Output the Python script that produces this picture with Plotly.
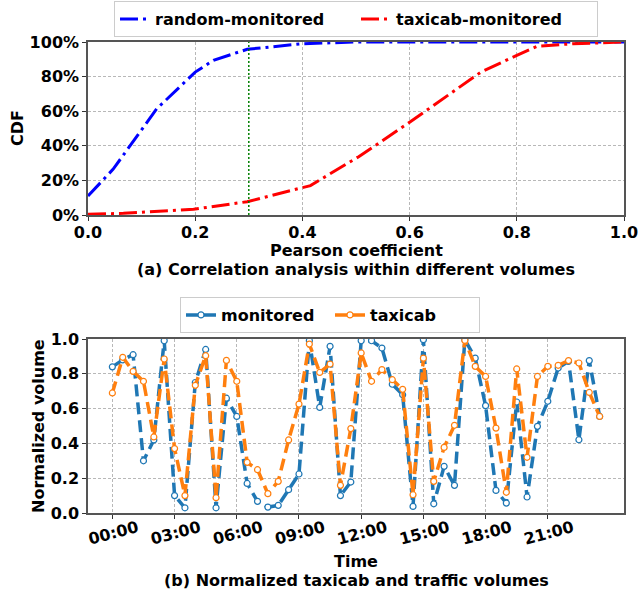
import plotly.graph_objects as go

# ---- Top chart data (CDF of Pearson coefficient) ----
pearson_random = [0.0, 0.047, 0.128, 0.2, 0.234, 0.297, 0.4, 0.5, 0.6, 0.7, 0.8, 0.9, 1.0]
cdf_random = [0.11, 0.265, 0.613, 0.826, 0.894, 0.958, 0.99, 1.0, 1.0, 1.0, 1.0, 1.0, 1.0]
pearson_taxi = [0.0, 0.066, 0.197, 0.297, 0.415, 0.505, 0.6, 0.733, 0.8, 0.838, 0.905, 1.0]
cdf_taxi = [0.004, 0.01, 0.033, 0.077, 0.17, 0.337, 0.536, 0.826, 0.923, 0.975, 0.99, 1.0]
threshold = 0.3
cdf_ticks = [0, 0.2, 0.4, 0.6, 0.8, 1.0]
pearson_ticks = [0, 0.2, 0.4, 0.6, 0.8, 1.0]

# ---- Bottom chart data (normalized volumes, every 30 minutes) ----
hours = [i * 0.5 for i in range(48)]
monitored = [0.84, 0.88, 0.91, 0.30, 0.42, 0.99, 0.10, 0.03, 0.75, 0.94, 0.03, 0.66,
             0.555, 0.17, 0.067, 0.034, 0.044, 0.134, 0.224, 0.99, 0.607, 0.958, 0.10, 0.178,
             0.99, 0.99, 0.948, 0.74, 0.68, 0.038, 0.996, 0.053, 0.268, 0.159, 0.996, 0.89,
             0.617, 0.13, 0.057, 0.638, 0.092, 0.498, 0.642, 0.833, 0.872, 0.421, 0.876, 0.555]
taxicab = [0.69, 0.895, 0.814, 0.757, 0.437, 0.885, 0.37, 0.10, 0.734, 0.904, 0.088, 0.877,
           0.757, 0.291, 0.249, 0.111, 0.182, 0.42, 0.626, 0.971, 0.808, 0.856, 0.159, 0.485,
           0.92, 0.757, 0.824, 0.766, 0.711, 0.105, 0.89, 0.182, 0.377, 0.504, 0.992, 0.843,
           0.785, 0.488, 0.119, 0.828, 0.32, 0.785, 0.843, 0.849, 0.876, 0.862, 0.693, 0.555]
time_tickvals = [0, 3, 6, 9, 12, 15, 18, 21]
time_ticktext = ["00:00", "03:00", "06:00", "09:00", "12:00", "15:00", "18:00", "21:00"]
vol_ticks = [0, 0.2, 0.4, 0.6, 0.8, 1.0]

FONT = "DejaVu Sans"
FS = 16
W, H = 638, 597
fig = go.Figure()

dashdot = "18px,5px,3px,5px"
fig.add_trace(go.Scatter(x=pearson_random, y=cdf_random, mode="lines", name="random-monitored",
                         line=dict(color="#0000ff", width=3, dash=dashdot),
                         xaxis="x", yaxis="y", legend="legend"))
fig.add_trace(go.Scatter(x=pearson_taxi, y=cdf_taxi, mode="lines", name="taxicab-monitored",
                         line=dict(color="#ff0000", width=3, dash=dashdot),
                         xaxis="x", yaxis="y", legend="legend"))
fig.add_trace(go.Scatter(x=[threshold, threshold], y=[0, 1], mode="lines", showlegend=False,
                         line=dict(color="green", width=1.5, dash="2px,2px"),
                         xaxis="x", yaxis="y"))

fig.add_trace(go.Scatter(x=hours, y=monitored, mode="lines+markers", name="monitored",
                         line=dict(color="#1f77b4", width=3.5, dash="12px,6px"),
                         marker=dict(symbol="circle", size=6, color="white",
                                     line=dict(color="#1f77b4", width=1.2)),
                         xaxis="x2", yaxis="y2", legend="legend2"))
fig.add_trace(go.Scatter(x=hours, y=taxicab, mode="lines+markers", name="taxicab",
                         line=dict(color="#ff7f0e", width=3.5, dash="12px,6px"),
                         marker=dict(symbol="circle", size=6, color="white",
                                     line=dict(color="#ff7f0e", width=1.2)),
                         xaxis="x2", yaxis="y2", legend="legend2"))

axis_common = dict(showline=True, mirror=True, linecolor="#555555", linewidth=1.5,
                   showgrid=True, gridcolor="#b8b8b8", griddash="3px,2px", gridwidth=1,
                   ticks="outside", ticklen=4, tickcolor="#333333", zeroline=False,
                   automargin=False, ticklabeloverflow="allow",
                   tickfont=dict(family=FONT, size=FS, color="black", weight="bold"))

span = hours[-1] - hours[0]
fig.update_layout(
    width=W, height=H,
    margin=dict(l=88, r=14, t=42, b=84, autoexpand=False),
    paper_bgcolor="white", plot_bgcolor="white",
    font=dict(family=FONT, size=FS, color="black", weight="bold"),
    xaxis=dict(domain=[0, 1], anchor="y", range=[0, 1], tickvals=pearson_ticks,
               tickformat=".1f", ticklabelstandoff=-2, **axis_common),
    yaxis=dict(domain=[0.6327, 1], anchor="x", range=[0, 1], tickvals=cdf_ticks,
               tickformat=".0%", **axis_common),
    xaxis2=dict(domain=[0, 1], anchor="y2",
                range=[hours[0] - 0.05 * span, hours[-1] + 0.05 * span],
                tickvals=time_tickvals, ticktext=time_ticktext, tickangle=-15,
                ticklabelshift=25, ticklabelstandoff=-6, **axis_common),
    yaxis2=dict(domain=[0, 0.3694], anchor="x2", range=[0, 1], tickvals=vol_ticks,
                tickformat=".1f", **axis_common),
    legend=dict(orientation="h", xref="container", yref="container",
                x=356 / W, y=1 - 19 / H, xanchor="center", yanchor="middle",
                entrywidth=196, entrywidthmode="pixels",
                bordercolor="#cccccc", borderwidth=1, bgcolor="white",
                font=dict(family=FONT, size=FS, color="black", weight="bold")),
    legend2=dict(orientation="h", xref="container", yref="container",
                 x=330 / W, y=1 - 315 / H, xanchor="center", yanchor="middle",
                 entrywidth=104, entrywidthmode="pixels",
                 bordercolor="#cccccc", borderwidth=1, bgcolor="white",
                 font=dict(family=FONT, size=FS, color="black", weight="bold")),
)

ann = dict(xref="paper", yref="paper", showarrow=False, xanchor="center", yanchor="middle",
           font=dict(family=FONT, size=FS, color="black", weight="bold"))
def px_x(p):
    return (p - 88) / 536
def px_y(p):
    return (513 - p) / 471

fig.add_annotation(text="CDF", x=px_x(18), y=px_y(128), textangle=-90, **ann)
fig.add_annotation(text="Pearson coefficient", x=0.5, y=px_y(250), **ann)
fig.add_annotation(text="(a) Correlation analysis within different volumes", x=0.5, y=px_y(269), **ann)
fig.add_annotation(text="Normalized volume", x=px_x(38), y=px_y(426), textangle=-90, **ann)
fig.add_annotation(text="Time", x=0.5, y=px_y(561), **ann)
fig.add_annotation(text="(b) Normalized taxicab and traffic volumes", x=0.5, y=px_y(580), **ann)

fig.write_html("out.html")
